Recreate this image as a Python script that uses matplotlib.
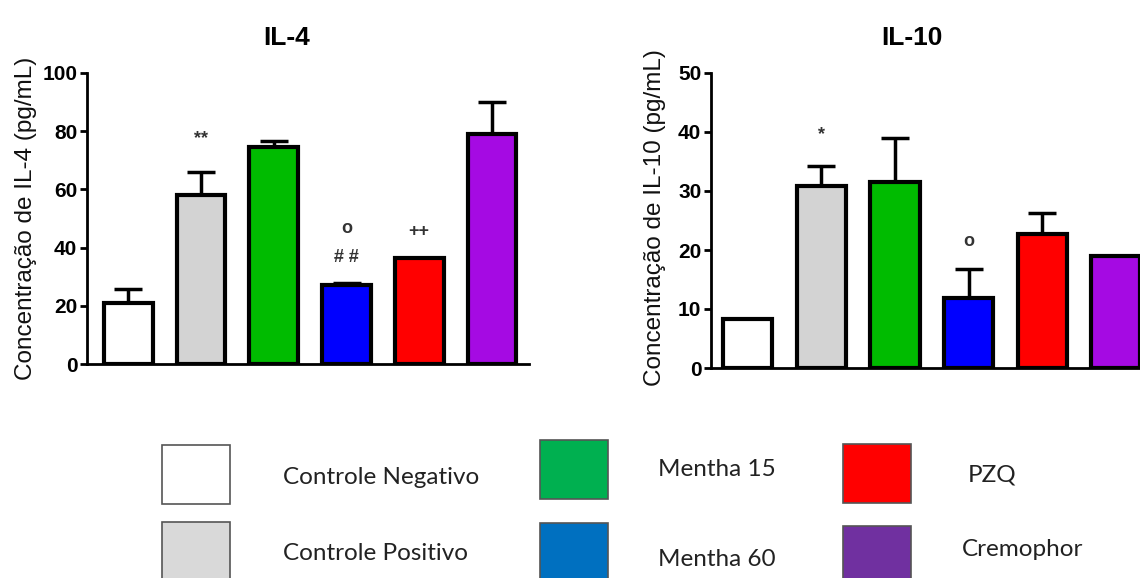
import numpy as np
import matplotlib
matplotlib.use('Agg')
import matplotlib.pyplot as plt
from matplotlib.patches import Rectangle

plt.rcParams['font.family'] = ['Liberation Sans', 'DejaVu Sans']

groups = ['Controle Negativo', 'Controle Positivo', 'Mentha 15', 'Mentha 60', 'PZQ', 'Cremophor']
bar_colors = ['#FFFFFF', '#D3D3D3', '#00BB00', '#0000FF', '#FF0000', '#A50AE3']
legend_colors = ['#FFFFFF', '#D9D9D9', '#00B050', '#0070C0', '#FF0000', '#7030A0']

il4_mean = [21.0, 58.0, 74.6, 27.1, 36.4, 79.0]
il4_sem = [4.8, 8.0, 2.0, 0.9, 0.0, 11.0]
il4_marks = [(1, 77.5, '**'), (3, 46.5, 'o'), (3, 36.5, '# #'), (4, 45.5, '++')]

il10_mean = [8.3, 30.8, 31.5, 11.9, 22.7, 19.0]
il10_sem = [0.0, 3.4, 7.5, 4.9, 3.6, 0.0]
il10_marks = [(1, 39.5, '*'), (3, 21.5, 'o')]

W, H = 1140, 578
fig = plt.figure(figsize=(W / 100, H / 100), dpi=100)


def draw_panel(rect, mean, sem, marks, ymax, ystep, xlim, title, ylabel, label_x, title_x):
    ax = fig.add_axes(rect)
    x = np.arange(len(mean))
    ax.bar(x, mean, width=0.67, color=bar_colors, edgecolor='black', linewidth=3, zorder=3)
    ax.errorbar(x, mean, yerr=[np.zeros(len(sem)), sem], fmt='none', ecolor='black',
                elinewidth=2.5, capsize=10, capthick=2.5, zorder=2)
    for i, y, s in marks:
        ax.text(i, y, s, ha='center', va='center', fontsize=13, color='#333333', fontweight='bold')
    ax.set_xlim(*xlim)
    ax.set_ylim(0, ymax)
    ax.set_yticks(np.arange(0, ymax + 1, ystep))
    ax.set_xticks([])
    for s in ['top', 'right']:
        ax.spines[s].set_visible(False)
    for s in ['left', 'bottom']:
        ax.spines[s].set_linewidth(2)
    ax.tick_params(axis='y', direction='out', length=5, width=2, labelsize=15, pad=2)
    for lab in ax.get_yticklabels():
        lab.set_fontweight('bold')
    fig.text(label_x / W, 1 - 218 / H, ylabel, rotation=90, ha='center', va='center',
             fontsize=17.5, color='#111111')
    fig.text(title_x / W, 1 - 38 / H, title, ha='center', va='center', fontsize=19, fontweight='bold')
    return ax


draw_panel([87 / W, 1 - 364 / H, 442 / W, 291 / H], il4_mean, il4_sem, il4_marks,
           100, 20, (-0.57, 5.51), 'IL-4', 'Concentração de IL-4 (pg/mL)', 26, 287)
draw_panel([711 / W, 1 - 368 / H, 449 / W, 295 / H], il10_mean, il10_sem, il10_marks,
           50, 10, (-0.50, 5.60), 'IL-10', 'Concentração de IL-10 (pg/mL)', 655, 912)

# legend drawn as separate boxes in figure pixels
leg = fig.add_axes([0, 0, 1, 1], zorder=-1)
leg.set_xlim(0, W)
leg.set_ylim(H, 0)
leg.axis('off')
box_x = [162, 162, 540, 540, 843, 843]
box_y = [445, 522, 440, 523, 444, 526]
text_x = [283, 283, 658, 658, 968, 962]
text_y = [477, 553, 470, 560, 475, 550]
for i, name in enumerate(groups):
    leg.add_patch(Rectangle((box_x[i], box_y[i]), 68, 59, facecolor=legend_colors[i],
                            edgecolor='#555555', linewidth=1.2))
    leg.text(text_x[i], text_y[i], name, ha='left', va='center', fontsize=17.5,
             family=['Lato', 'DejaVu Sans'], color='#222222')

fig.savefig('out.png', dpi=100)
